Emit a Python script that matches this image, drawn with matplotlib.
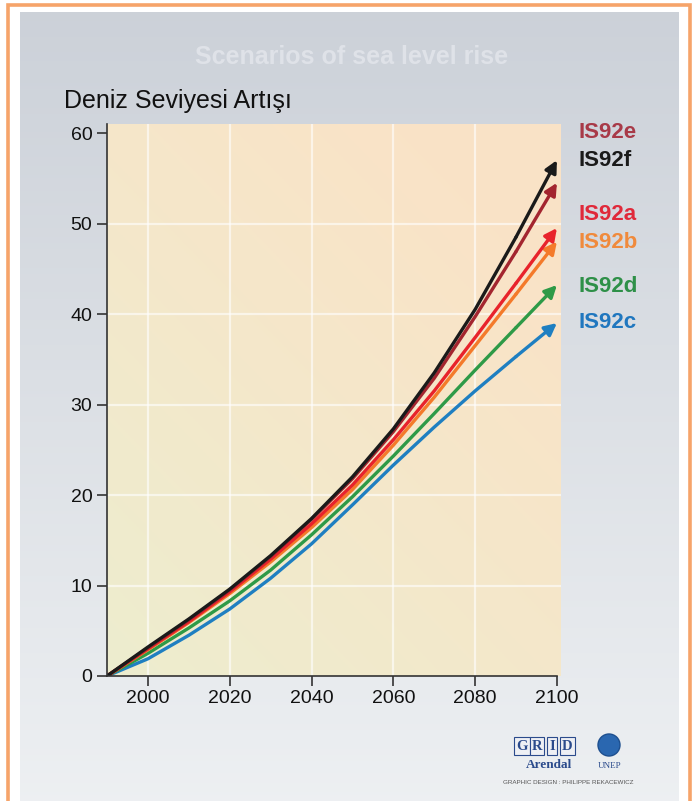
import numpy as np
import matplotlib
matplotlib.use("Agg")
import matplotlib.pyplot as plt
from matplotlib.patches import Rectangle, Ellipse

plt.rcParams['font.family'] = ['Liberation Sans', 'DejaVu Sans']

years = [1990, 2000, 2010, 2020, 2030, 2040, 2050, 2060, 2070, 2080, 2090, 2100]

# sea level rise (cm), one list per scenario
is92c = [0, 1.9, 4.5, 7.4, 10.8, 14.6, 18.9, 23.3, 27.5, 31.5, 35.3, 39.0]
is92d = [0, 2.5, 5.3, 8.3, 11.7, 15.6, 19.8, 24.3, 29.0, 33.8, 38.5, 43.2]
is92b = [0, 2.9, 5.9, 9.1, 12.6, 16.4, 20.6, 25.5, 30.8, 36.5, 42.2, 48.0]
is92a = [0, 3.0, 6.0, 9.3, 12.9, 16.8, 21.1, 26.1, 31.5, 37.4, 43.4, 49.5]
is92e = [0, 3.1, 6.2, 9.5, 13.2, 17.3, 21.8, 27.0, 32.9, 39.7, 46.9, 54.5]
is92f = [0, 3.2, 6.3, 9.6, 13.3, 17.4, 22.0, 27.3, 33.5, 40.5, 48.5, 57.0]

# drawing order: bottom curve first, black last
series = [
    ("IS92c", is92c, "#1f7fc1", "#2077bf"),
    ("IS92d", is92d, "#2e9a47", "#2e9048"),
    ("IS92b", is92b, "#f47a2a", "#f08a3c"),
    ("IS92a", is92a, "#e8232b", "#e0293a"),
    ("IS92e", is92e, "#a3252f", "#a83a48"),
    ("IS92f", is92f, "#1a1a1a", "#1a1a1a"),
]
# label order top to bottom, and their vertical spot in the figure
label_order = ["IS92e", "IS92f", "IS92a", "IS92b", "IS92d", "IS92c"]
label_y = [132, 160, 215, 242, 287, 323]

yticks = [0, 10, 20, 30, 40, 50, 60]
xticks = [2000, 2020, 2040, 2060, 2080, 2100]

W, H = 697, 801
fig = plt.figure(figsize=(W / 100, H / 100), dpi=100)
fig.patch.set_facecolor("white")

# gray panel with a soft vertical gradient
bg = fig.add_axes([20 / W, 0, (679 - 20) / W, (H - 12) / H])
grad = np.linspace(0, 1, 256).reshape(-1, 1)
top = np.array([0.80, 0.82, 0.85])
bot = np.array([0.93, 0.94, 0.95])
img = top[None, None, :] * (1 - grad[:, :, None]) + bot[None, None, :] * grad[:, :, None]
bg.imshow(img, aspect="auto", extent=[0, 1, 0, 1])
bg.set_axis_off()

# orange frame
fig.patches.append(Rectangle((7.5 / W, -0.05), (690 - 7.5) / W, (H - 4.5) / H + 0.05,
                             transform=fig.transFigure, fill=False,
                             edgecolor="#f6a46a", lw=2.6, zorder=5))

fig.text(352 / W, 1 - 57 / H, "Scenarios of sea level rise", ha="center", va="center",
         fontsize=18, fontweight="bold", color="#dfe2e8")
fig.text(64 / W, 1 - 101 / H, "Deniz Seviyesi Artışı", ha="left", va="center",
         fontsize=18, color="#111111")

x0, x1 = 107, 561
y0, y1 = 676, 124
ax = fig.add_axes([x0 / W, 1 - y0 / H, (x1 - x0) / W, (y0 - y1) / H])
ax.set_xlim(1990, 2101)
ax.set_ylim(0, 61)

# plot area gradient: pale yellow-green bottom left, peach top right
gx, gy = np.meshgrid(np.linspace(0, 1, 200), np.linspace(0, 1, 200))
t = np.clip(0.55 * gx + 0.65 * gy, 0, 1)[:, :, None]
c0 = np.array([0.93, 0.93, 0.81])
c1 = np.array([0.98, 0.89, 0.78])
ax.imshow(c0 * (1 - t) + c1 * t, aspect="auto", extent=[1990, 2101, 0, 61],
          origin="lower", zorder=0)

for v in yticks[1:-1]:
    ax.axhline(v, color="white", lw=1.6, alpha=0.6, zorder=1)
for v in xticks[:-1]:
    ax.axvline(v, color="white", lw=1.6, alpha=0.6, zorder=1)

for name, vals, col, tcol in series:
    ax.plot(years[:-1], vals[:-1], color=col, lw=2.4, zorder=3,
            solid_capstyle="round", solid_joinstyle="round")
    ax.annotate("", xy=(years[-1], vals[-1]), xytext=(years[-2], vals[-2]),
                arrowprops=dict(arrowstyle="-|>", color=col, lw=2.4,
                                mutation_scale=18, shrinkA=0, shrinkB=0),
                zorder=4)

colors = {name: tcol for name, _, _, tcol in series}
for name, ly in zip(label_order, label_y):
    fig.text(579 / W, 1 - ly / H, name, ha="left", va="center", fontsize=16,
             fontweight="bold", color=colors[name])

for s in ["top", "right"]:
    ax.spines[s].set_visible(False)
ax.spines["bottom"].set_bounds(1990, 2100)
for s in ["left", "bottom"]:
    ax.spines[s].set_color("#333333")
    ax.spines[s].set_linewidth(1.2)
    ax.spines[s].set_zorder(5)
ax.set_yticks(yticks)
ax.set_xticks(xticks)
ax.tick_params(axis="both", direction="out", length=7, width=1.2, color="#333333",
               labelsize=14, labelcolor="#111111")
ax.tick_params(axis="x", pad=3)

# GRID-Arendal / UNEP credit
for i, ch in enumerate("GRID"):
    fig.text((522 + i * 15) / W, 1 - 746 / H, ch, ha="center", va="center",
             fontsize=10.5, fontweight="bold", color="#2b4b8c", family="Liberation Serif",
             bbox=dict(boxstyle="square,pad=0.15", fc="#eef0f4", ec="#2b4b8c", lw=0.8))
fig.text(549 / W, 1 - 765 / H, "Arendal", ha="center", va="center", fontsize=9.5,
         fontweight="bold", color="#2b4b8c", family="Liberation Serif")
fig.patches.append(Ellipse((609 / W, 1 - 745 / H), 22 / W, 22 / H, transform=fig.transFigure,
                           fc="#2a67b0", ec="#1d4f8f", lw=1.0, zorder=5))
fig.text(610 / W, 1 - 766 / H, "UNEP", ha="center", va="center", fontsize=6.5,
         color="#2b4b8c", family="Liberation Serif")
fig.text(568 / W, 1 - 783 / H, "GRAPHIC DESIGN : PHILIPPE REKACEWICZ", ha="center",
         va="center", fontsize=4.5, color="#555555")

fig.savefig("out.png", dpi=100)
